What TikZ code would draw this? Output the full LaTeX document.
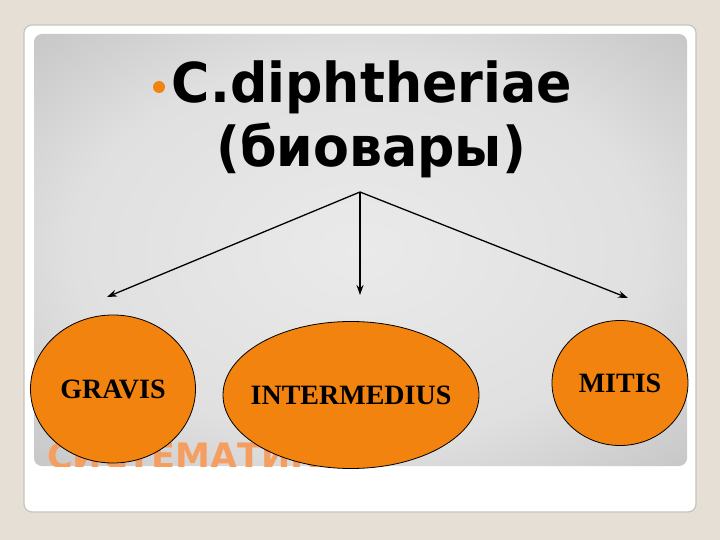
\documentclass[tikz,border=0pt]{standalone}
\usepackage{fontspec}
\usepackage{graphicx}
\setmainfont{Liberation Serif}
\newfontfamily\titlefont{DejaVu Sans}
\usetikzlibrary{shapes.geometric,arrows.meta}
\definecolor{bgbeige}{RGB}{229,223,213}
\definecolor{ovalorange}{RGB}{242,131,15}
\definecolor{faintorange}{RGB}{245,158,95}
\definecolor{panelline}{RGB}{200,195,187}
\definecolor{pc1}{RGB}{234,234,234}
\definecolor{pc2}{RGB}{224,224,224}
\definecolor{pc3}{RGB}{172,172,172}
\definecolor{pc4}{RGB}{155,155,155}
\pgfdeclareradialshading{panelshade}{\pgfpoint{0bp}{0bp}}{%
  color(0bp)=(pc1); color(22bp)=(pc2); color(50bp)=(pc3); color(72bp)=(pc4)}
\newcommand{\ovaltext}[1]{\makebox[0pt][c]{#1}}
\tikzset{
  titletext/.style={inner sep=0pt, font=\titlefont\bfseries\fontsize{55}{66}\selectfont},
  biovar/.style={ellipse, draw=black, line width=0.8pt, fill=ovalorange, inner sep=0pt,
    font=\bfseries\fontsize{28}{32}\selectfont},
  branch/.style={draw=black, line width=1.3pt, -{Stealth[length=10pt,width=7pt]}},
}
\begin{document}
\begin{tikzpicture}[x=1pt,y=-1pt]
\useasboundingbox (0,0) rectangle (720,540);
\fill[bgbeige] (0,0) rectangle (720,540);
% white slide panel
\draw[panelline, line width=1.2pt, fill=white, rounded corners=8pt] (24,25) rectangle (696,512);
% gray gradient panel
\path[shading=panelshade, rounded corners=8pt] (34,34) rectangle (687,466);
% faint title text behind the ovals, clipped to the gray panel
\begin{scope}
  \clip[rounded corners=8pt] (34,34) rectangle (687,466);
  \node[anchor=base west, inner sep=0pt, text=faintorange,
    font=\titlefont\bfseries\fontsize{35}{42}\selectfont] (sys) at (47,468) {СИСТЕМАТИКА};
\end{scope}
% title
\node[circle, fill=ovalorange, minimum size=12pt, inner sep=0pt] (bullet) at (159,87) {};
\node[titletext, anchor=base] (title1) at (372,103) {\scalebox{0.95}[1]{C.diphtheriae}};
\node[titletext, anchor=base] (title2) at (371,167) {\scalebox{0.95}[1]{(биовары)}};
% arrows
\coordinate (src) at (360,192);
\coordinate (tipL) at (107,297);
\coordinate (tipC) at (360,295);
\coordinate (tipR) at (628,298);
\draw[branch] (src) -- (tipL);
\draw[branch] (src) -- (tipC);
\draw[branch] (src) -- (tipR);
% biovars
\node[biovar, minimum width=165pt, minimum height=148pt] (gravis) at (113,389) {\ovaltext{GRAVIS}};
\node[biovar, minimum width=256pt, minimum height=147pt] (inter) at (351,395) {\ovaltext{INTERMEDIUS}};
\node[biovar, minimum width=136pt, minimum height=125pt] (mitis) at (620,383) {\ovaltext{MITIS}};
\end{tikzpicture}
\end{document}
